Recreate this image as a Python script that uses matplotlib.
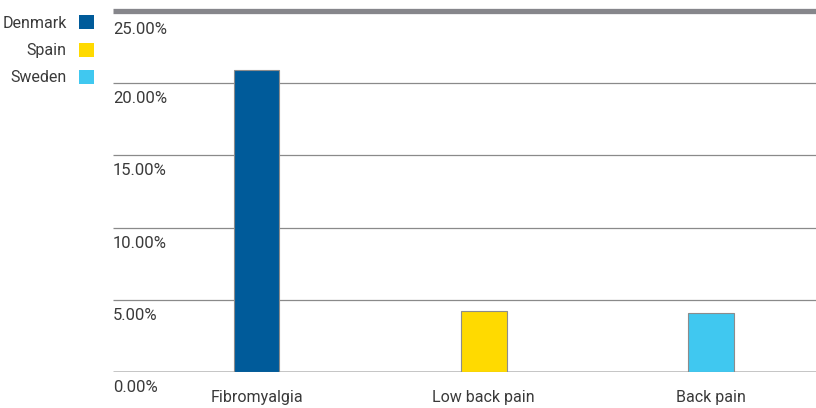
import matplotlib.pyplot as plt
from matplotlib.patches import Rectangle
from matplotlib.transforms import blended_transform_factory, offset_copy

# Share of patients per condition and country (%)
conditions = ["Fibromyalgia", "Low back pain", "Back pain"]
countries = ["Denmark", "Spain", "Sweden"]
values = [20.9, 4.22, 4.1]
colors = ["#005B9A", "#FFDA00", "#40C8F0"]
y_ticks = [0, 5, 10, 15, 20, 25]

plt.rcParams["font.family"] = ["Roboto", "DejaVu Sans"]
text_color = "#3a3a3a"

fig = plt.figure(figsize=(8.16, 4.08), dpi=100)
ax = fig.add_axes([113 / 816, 35.7 / 408, 703 / 816, 361.5 / 408])

x = list(range(len(conditions)))
ax.bar(x, values, width=0.2, color=colors, edgecolor="#8c8c8c", linewidth=0.8, zorder=3)

ax.set_xlim(-0.633, 2.463)
ax.set_ylim(0, 25)

# gridlines, heavy one on top and light baseline
for t in y_ticks:
    if t == 25:
        ax.axhline(t, color="#86868b", linewidth=3.8, zorder=2, clip_on=False,
                   solid_capstyle="butt")
    elif t == 0:
        ax.axhline(t, color="#c0c0c0", linewidth=2, zorder=2, solid_capstyle="butt")
    else:
        ax.axhline(t, color="#8a8a8a", linewidth=0.9, zorder=2, solid_capstyle="butt")

# y labels sit just under their gridline, flush left
blend = blended_transform_factory(ax.transAxes, ax.transData)
for t in y_ticks:
    drop = -23 if t == 25 else -20
    trans = offset_copy(blend, fig=fig, x=0, y=drop, units="dots")
    ax.text(0.0, t, f"{t:.2f}%", transform=trans, ha="left", va="baseline",
            fontsize=12, color=text_color)

cat_trans = offset_copy(ax.transData, fig=fig, x=0, y=-30, units="dots")
for xi, name in zip(x, conditions):
    ax.text(xi, 0, name, transform=cat_trans, ha="center", va="baseline",
            fontsize=11.5, color=text_color)

ax.set_xticks([])
ax.set_yticks([])
for s in ax.spines.values():
    s.set_visible(False)

# legend in the top left corner
for i, (name, c) in enumerate(zip(countries, colors)):
    yc = 408 - (22 + 27.5 * i)
    fig.text(66.7 / 816, (yc - 5.5) / 408, name, ha="right", va="baseline",
             fontsize=11.5, color=text_color)
    fig.patches.append(Rectangle((79 / 816, (yc - 7) / 408), 15 / 816, 14 / 408,
                                 transform=fig.transFigure, facecolor=c, edgecolor="none"))

fig.savefig("out.png", dpi=100)
